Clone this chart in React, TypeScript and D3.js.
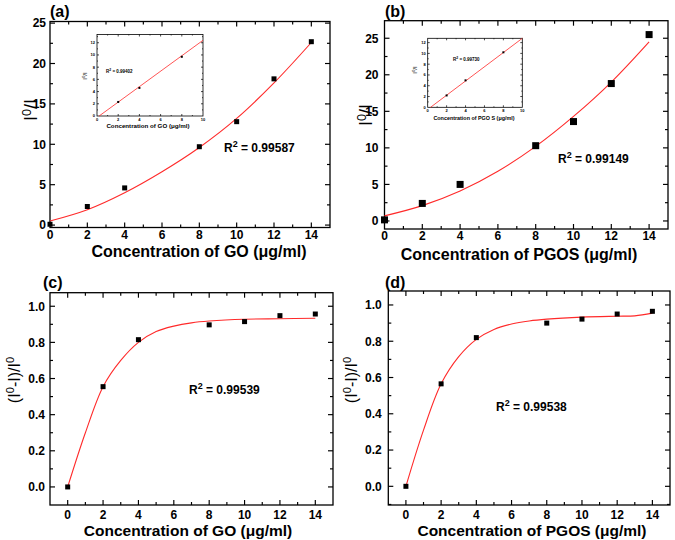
import React from 'react';
import * as d3 from 'd3';

const FONT = "Arial, 'Liberation Sans', Helvetica, sans-serif";

// ---- tick values ----
const xTicksMain = [0, 2, 4, 6, 8, 10, 12, 14];
const yTicksQuench = [0, 5, 10, 15, 20, 25];
const yTicksEff = [0, 0.2, 0.4, 0.6, 0.8, 1.0];
const insetXTicks = [0, 2, 4, 6, 8, 10];
const insetYTicks = [0, 2, 4, 6, 8, 10, 12];

// ---- (a) GO: I0/I ----
const concGO = [0, 2, 4, 8, 10, 12, 14];
const quenchGO = [0.1, 2.3, 4.6, 9.7, 12.8, 18.1, 22.7];
const fitGOx = [0, 2, 4, 6, 8, 10, 12, 14];
const fitGOy = [0.5, 1.9, 4.0, 6.6, 9.6, 13.2, 17.6, 22.6];

// ---- (b) PGOS: I0/I ----
const concPGOS = [0, 2, 4, 8, 10, 12, 14];
const quenchPGOS = [0.15, 2.4, 5.0, 10.3, 13.6, 18.8, 25.5];
const fitPGOSx = [0, 2, 4, 6, 8, 10, 12, 14];
const fitPGOSy = [0.7, 2.1, 4.1, 6.8, 10.2, 14.3, 19.0, 24.5];

// ---- (c) GO: (I0-I)/I0 ----
const effGO = [0, 0.555, 0.815, 0.897, 0.915, 0.948, 0.957];
const fitEffGOx = [0, 1, 2, 3, 4, 5, 6, 7, 8, 10, 12, 14];
const fitEffGOy = [0, 0.30, 0.555, 0.70, 0.80, 0.86, 0.89, 0.908, 0.918, 0.928, 0.931, 0.934];

// ---- (d) PGOS: (I0-I)/I0 ----
const effPGOS = [0, 0.565, 0.82, 0.90, 0.922, 0.95, 0.965];
const fitEffPGOSx = [0, 1, 2, 3, 4, 5, 6, 7, 8, 10, 12, 13, 14];
const fitEffPGOSy = [0, 0.31, 0.565, 0.715, 0.81, 0.865, 0.895, 0.912, 0.922, 0.933, 0.938, 0.94, 0.955];

// ---- insets ----
const insetGOx = [2, 4, 8];
const insetGOy = [2.3, 4.6, 9.7];
const insetGOfitX = [0.2, 10];
const insetGOfitY = [0, 12.4];
const insetPGOSx = [2, 4, 8];
const insetPGOSy = [2.2, 5.0, 10.2];
const insetPGOSfitX = [0.3, 10];
const insetPGOSfitY = [0, 12.8];

const r2Texts = ['0.99587', '0.99149', '0.99539', '0.99538'];
const r2Inset = ['0.99402', '0.99730'];

type PanelProps = {
  left: number; top: number; right: number; bottom: number;
  xDomain: [number, number]; yDomain: [number, number];
  xTicks: number[]; yTicks: number[];
  xMinorStep: number; yMinorStep: number;
  xs: number[]; ys: number[]; fitX: number[]; fitY: number[];
  marker: number; tickFont: number; yFmt: (v: number) => string;
  xLabelDy: number; yLabelGap: number;
  major: number; minor: number; frameW: number; lineW: number;
  linear?: boolean;
  children?: React.ReactNode;
};

function Panel(p: PanelProps) {
  const x = d3.scaleLinear().domain(p.xDomain).range([p.left, p.right]);
  const y = d3.scaleLinear().domain(p.yDomain).range([p.bottom, p.top]);
  const eps = 1e-6;
  const minorVals = (dom: [number, number], step: number, majors: number[]) =>
    d3.range(Math.ceil(dom[0] / step) * step, dom[1] + eps, step)
      .filter(v => v > dom[0] + eps && v < dom[1] - eps && !majors.some(m => Math.abs(m - v) < eps));
  const xMin = minorVals(p.xDomain, p.xMinorStep, p.xTicks);
  const yMin = minorVals(p.yDomain, p.yMinorStep, p.yTicks);
  const line = d3.line<number>()
    .x((_, i) => x(p.fitX[i]))
    .y((d) => y(d))
    .curve(p.linear ? d3.curveLinear : d3.curveCatmullRom.alpha(0.5));
  const tk = { stroke: '#000', strokeWidth: p.frameW * 0.9 };
  const xt = (v: number, len: number, k: string) => (
    <g key={k}>
      <line x1={x(v)} x2={x(v)} y1={p.bottom} y2={p.bottom - len} {...tk} />
      <line x1={x(v)} x2={x(v)} y1={p.top} y2={p.top + len} {...tk} />
    </g>
  );
  const yt = (v: number, len: number, k: string) => (
    <g key={k}>
      <line y1={y(v)} y2={y(v)} x1={p.left} x2={p.left + len} {...tk} />
      <line y1={y(v)} y2={y(v)} x1={p.right} x2={p.right - len} {...tk} />
    </g>
  );
  return (
    <g>
      <rect x={p.left} y={p.top} width={p.right - p.left} height={p.bottom - p.top}
        fill="#fff" stroke="#000" strokeWidth={p.frameW} />
      {p.xTicks.filter(v => v > p.xDomain[0] + eps && v < p.xDomain[1] - eps).map(v => xt(v, p.major, 'xM' + v))}
      {xMin.map(v => xt(v, p.minor, 'xm' + v))}
      {p.yTicks.filter(v => v > p.yDomain[0] + eps && v < p.yDomain[1] - eps).map(v => yt(v, p.major, 'yM' + v))}
      {yMin.map(v => yt(v, p.minor, 'ym' + v))}
      {p.xTicks.map(v => (
        <text key={'xl' + v} x={x(v)} y={p.bottom + p.xLabelDy} textAnchor="middle"
          fontFamily={FONT} fontWeight="bold" fontSize={p.tickFont}>{v}</text>
      ))}
      {p.yTicks.map(v => (
        <text key={'yl' + v} x={p.left - p.yLabelGap} y={y(v)} dy="0.36em" textAnchor="end"
          fontFamily={FONT} fontWeight="bold" fontSize={p.tickFont}>{p.yFmt(v)}</text>
      ))}
      <path d={line(p.fitY) || ''} fill="none" stroke="#ff2a2a" strokeWidth={p.lineW} />
      {p.xs.map((v, i) => (
        <rect key={'m' + i} x={x(v) - p.marker / 2} y={y(p.ys[i]) - p.marker / 2}
          width={p.marker} height={p.marker} fill="#000" />
      ))}
      {p.children}
    </g>
  );
}

const intFmt = (v: number) => String(v);
const decFmt = (v: number) => v.toFixed(1);

function R2({ x, y, value, size }: { x: number; y: number; value: string; size: number }) {
  return (
    <text x={x} y={y} fontFamily={FONT} fontWeight="bold" fontSize={size}>
      R<tspan fontSize={size * 0.75} dy={-size * 0.4}>2</tspan>
      <tspan dy={size * 0.4}>{' = ' + value}</tspan>
    </text>
  );
}

function YLabelQuench({ cx, cy, size }: { cx: number; cy: number; size: number }) {
  return (
    <text transform={`translate(${cx},${cy}) rotate(-90)`} textAnchor="middle"
      fontFamily={FONT} fontSize={size}>
      I<tspan fontSize={size * 0.7} dy={-size * 0.35}>0</tspan>
      <tspan dy={size * 0.35}>/I</tspan>
    </text>
  );
}

function YLabelEff({ cx, cy, size }: { cx: number; cy: number; size: number }) {
  return (
    <text transform={`translate(${cx},${cy}) rotate(-90)`} textAnchor="middle"
      fontFamily={FONT} fontSize={size}>
      (I<tspan fontSize={size * 0.7} dy={-size * 0.35}>0</tspan>
      <tspan dy={size * 0.35}>-I)/I</tspan>
      <tspan fontSize={size * 0.7} dy={-size * 0.35}>0</tspan>
    </text>
  );
}

function XLabel({ cx, y, text, size }: { cx: number; y: number; text: string; size: number }) {
  return (
    <text x={cx} y={y} textAnchor="middle" fontFamily={FONT} fontWeight="bold" fontSize={size}>{text}</text>
  );
}

function Tag({ x, y, text }: { x: number; y: number; text: string }) {
  return <text x={x} y={y} fontFamily={FONT} fontWeight="bold" fontSize={16}>{text}</text>;
}

const mainCommon = {
  xTicks: xTicksMain, xMinorStep: 1, tickFont: 12,
  major: 5, minor: 3, frameW: 1.3, lineW: 1.1,
};

const insetCommon = {
  xTicks: insetXTicks, yTicks: insetYTicks, xMinorStep: 1, yMinorStep: 1,
  xDomain: [0, 10] as [number, number], tickFont: 4, yFmt: intFmt,
  xLabelDy: 5, yLabelGap: 2, major: 2, minor: 1, frameW: 0.8, lineW: 0.8,
  marker: 2, linear: true,
};

export default function App() {
  return (
    <svg width={675} height={540} viewBox="0 0 675 540"
      style={{ position: 'absolute', left: 0, top: 0, background: '#fff' }}>
      <rect x={0} y={0} width={675} height={540} fill="#fff" />

      {/* (a) */}
      <Panel {...mainCommon} left={50} right={330} top={21.5} bottom={227.5}
        xDomain={[0, 15]} yDomain={[-0.3, 25.2]} yTicks={yTicksQuench} yMinorStep={2.5}
        xs={concGO} ys={quenchGO} fitX={fitGOx} fitY={fitGOy} marker={5}
        yFmt={intFmt} xLabelDy={11} yLabelGap={4}>
        <R2 x={224} y={152} value={r2Texts[0]} size={12} />
      </Panel>
      <Panel {...insetCommon} left={97} right={203} top={34.5} bottom={116}
        yDomain={[0, 13.35]} xs={insetGOx} ys={insetGOy} fitX={insetGOfitX} fitY={insetGOfitY}>
        <R2 x={106} y={73} value={r2Inset[0]} size={4.5} />
      </Panel>
      <XLabel cx={148} y={128} text="Concentration of GO (μg/ml)" size={6.2} />
      <YLabelQuench cx={87} cy={76} size={6} />
      <XLabel cx={199} y={257} text="Concentration of GO (μg/ml)" size={16} />
      <YLabelQuench cx={37} cy={110} size={18} />
      <Tag x={50} y={17} text="(a)" />

      {/* (b) */}
      <Panel {...mainCommon} left={384.5} right={668} top={20.7} bottom={229}
        xDomain={[0, 15]} yDomain={[-1.1, 27.4]} yTicks={yTicksQuench} yMinorStep={2.5}
        xs={concPGOS} ys={quenchPGOS} fitX={fitPGOSx} fitY={fitPGOSy} marker={7}
        yFmt={intFmt} xLabelDy={11} yLabelGap={6}>
        <R2 x={558} y={163} value={r2Texts[1]} size={12} />
      </Panel>
      <Panel {...insetCommon} left={427.7} right={522.3} top={38.3} bottom={107.3}
        yDomain={[0, 12.8]} xs={insetPGOSx} ys={insetPGOSy} fitX={insetPGOSfitX} fitY={insetPGOSfitY}>
        <R2 x={453} y={61} value={r2Inset[1]} size={4.5} />
      </Panel>
      <XLabel cx={474} y={120} text="Concentration of PGO S (μg/ml)" size={5.4} />
      <YLabelQuench cx={417} cy={70} size={6} />
      <XLabel cx={519} y={260} text="Concentration of PGOS (μg/ml)" size={16} />
      <YLabelQuench cx={372} cy={115} size={18} />
      <Tag x={385} y={17} text="(b)" />

      {/* (c) */}
      <Panel {...mainCommon} left={50} right={333} top={292.7} bottom={505}
        xDomain={[-1, 15]} yDomain={[-0.1, 1.075]} yTicks={yTicksEff} yMinorStep={0.1}
        xs={concGO} ys={effGO} fitX={fitEffGOx} fitY={fitEffGOy} marker={5}
        yFmt={decFmt} xLabelDy={13.5} yLabelGap={5}>
        <R2 x={189} y={394} value={r2Texts[2]} size={12} />
      </Panel>
      <XLabel cx={188} y={536} text="Concentration of GO (μg/ml)" size={15.5} />
      <YLabelEff cx={20} cy={380} size={16} />
      <Tag x={43} y={288} text="(c)" />

      {/* (d) */}
      <Panel {...mainCommon} left={388.3} right={670} top={291} bottom={505}
        xDomain={[-1, 15]} yDomain={[-0.103, 1.077]} yTicks={yTicksEff} yMinorStep={0.1}
        xs={concPGOS} ys={effPGOS} fitX={fitEffPGOSx} fitY={fitEffPGOSy} marker={5}
        yFmt={decFmt} xLabelDy={13.5} yLabelGap={6.5}>
        <R2 x={496} y={411} value={r2Texts[3]} size={12} />
      </Panel>
      <XLabel cx={532} y={536} text="Concentration of PGOS (μg/ml)" size={15.5} />
      <YLabelEff cx={357} cy={380} size={16} />
      <Tag x={385} y={288} text="(d)" />
    </svg>
  );
}
